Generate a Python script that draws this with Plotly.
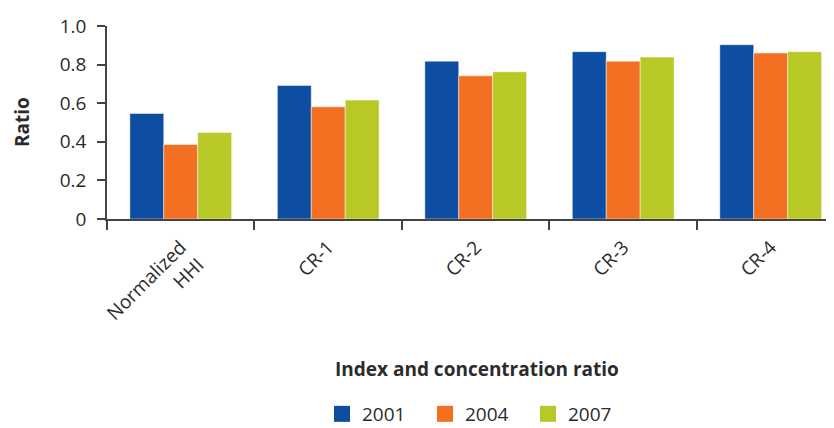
import plotly.graph_objects as go

categories = ["Normalized<br>HHI", "CR-1", "CR-2", "CR-3", "CR-4"]
years = ["2001", "2004", "2007"]
values_2001 = [0.547, 0.692, 0.818, 0.867, 0.903]
values_2004 = [0.386, 0.581, 0.742, 0.818, 0.860]
values_2007 = [0.448, 0.616, 0.763, 0.839, 0.867]
colors = ["#0D4EA2", "#F37022", "#B8C927"]
y_ticks = [0, 0.2, 0.4, 0.6, 0.8, 1.0]
y_ticktext = ["0", "0.2", "0.4", "0.6", "0.8", "1.0"]

FONT = "Open Sans"
TXT = "#2b2b2b"
W, H = 834, 428
ML, MR, MT, MB = 107, 8, 26, 209

fig = go.Figure()
for name, vals, col in zip(years, [values_2001, values_2004, values_2007], colors):
    fig.add_trace(go.Bar(
        x=categories, y=vals, name=name, showlegend=False,
        marker=dict(color=col, line=dict(color="rgba(255,255,255,0.6)", width=0.8)),
    ))
    fig.add_trace(go.Scatter(
        x=[None], y=[None], mode="markers", name=name,
        marker=dict(symbol="square", size=16, color=col),
    ))

pw = W - ML - MR
ph = H - MT - MB

def px_x(v):
    return (v - ML) / pw

def px_y(v):
    return (H - MB - v) / ph

fig.update_layout(
    width=W, height=H,
    margin=dict(l=ML, r=MR, t=MT, b=MB),
    plot_bgcolor="white", paper_bgcolor="white",
    font=dict(family=FONT, size=19, color=TXT),
    barmode="group", bargap=0.31, bargroupgap=0,
    showlegend=True,
    legend=dict(orientation="h", x=322 / W, xanchor="left", xref="container",
                y=(H - 414) / H, yanchor="middle", yref="container",
                font=dict(size=19, color=TXT), entrywidth=58, traceorder="normal"),
    xaxis=dict(
        range=[-0.5, 4.375], showline=True, linecolor="#444", linewidth=1.5,
        ticks="outside", tickson="boundaries", ticklen=9, tickcolor="#444",
        tickwidth=1.5, tickangle=-45, showgrid=False, zeroline=False,
        tickfont=dict(size=19, color=TXT), ticklabelstandoff=8,
    ),
    yaxis=dict(
        range=[0, 1.0], showline=True, linecolor="#444", linewidth=1.5,
        ticks="outside", ticklen=8, tickcolor="#444", tickwidth=1.5,
        tickvals=y_ticks, ticktext=y_ticktext, showgrid=False, zeroline=False,
        tickfont=dict(size=19, color=TXT), ticklabelstandoff=7,
    ),
    annotations=[
        dict(text="<b>Ratio</b>", x=px_x(22), y=px_y(122), xref="paper", yref="paper",
             xanchor="center", yanchor="middle",
             showarrow=False, textangle=-90, font=dict(size=19, color=TXT)),
        dict(text="<b>Index and concentration ratio</b>", x=px_x(477), y=px_y(369),
             xref="paper", yref="paper", xanchor="center", yanchor="middle",
             showarrow=False, font=dict(size=19, color=TXT)),
    ],
)

fig.write_html("out.html", config={"displayModeBar": False})

# remove default body margin so the figure sits at the window's top-left corner
with open("out.html", "r", encoding="utf-8") as f:
    html = f.read()
html = html.replace("<head>", "<head><style>html,body{margin:0;padding:0;}</style>", 1)
with open("out.html", "w", encoding="utf-8") as f:
    f.write(html)
